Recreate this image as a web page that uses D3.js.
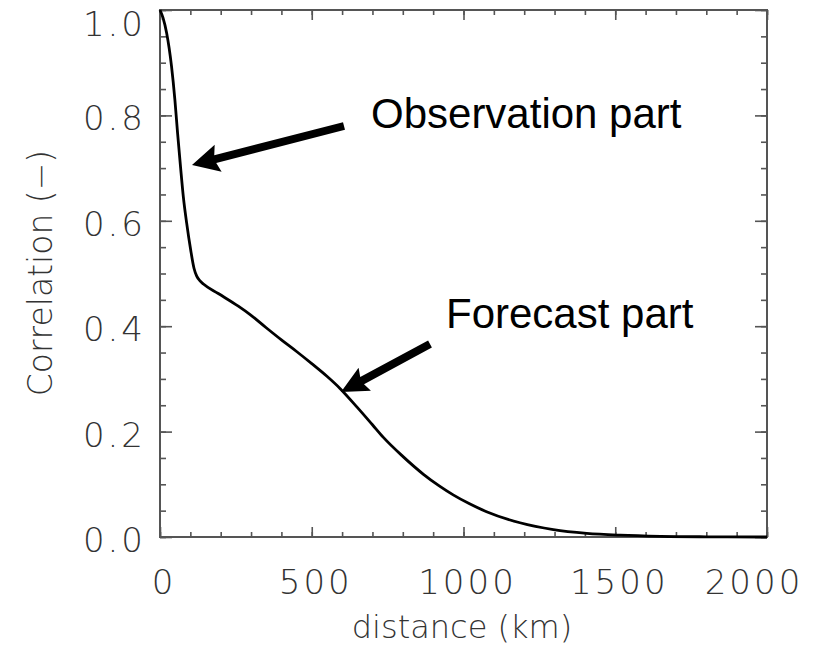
<!DOCTYPE html>
<html>
<head>
<meta charset="utf-8">
<script src="https://cdn.jsdelivr.net/npm/d3@7"></script>
<style>
  body { margin: 0; background: #fff; }
  .lbl { font-family: "DejaVu Sans", sans-serif; font-weight: 200; fill: #333; }
  .note { font-family: "Liberation Sans", Arial, sans-serif; fill: #000; }
</style>
</head>
<body>
<svg width="824" height="655"></svg>
<script>
var distance = [0, 10, 22, 38, 49, 58, 68, 77, 88, 101, 112, 121, 132, 143, 192, 258, 297, 350, 400, 450, 500, 550, 593, 650, 700, 736, 800, 868, 920, 966, 1020, 1076, 1186, 1296, 1406, 1516, 1650, 1800, 2000]
var correlation = [1.0, 0.985, 0.956, 0.893, 0.83, 0.766, 0.70, 0.645, 0.595, 0.545, 0.51, 0.495, 0.486, 0.480, 0.462, 0.438, 0.422, 0.397, 0.374, 0.352, 0.329, 0.305, 0.282, 0.246, 0.213, 0.189, 0.153, 0.119, 0.097, 0.080, 0.063, 0.048, 0.027, 0.014, 0.007, 0.0035, 0.0013, 0.0004, 0.0]

var xTicks = [0, 500, 1000, 1500, 2000]
var yTicks = [0.0, 0.2, 0.4, 0.6, 0.8, 1.0]
var xLabel = "distance (km)"
var yLabel = "Correlation (\u2212)"
var notes = ["Observation part", "Forecast part"]

var L = 160, R = 767, T = 10, B = 537

var svg = d3.select("svg")
var x = d3.scaleLinear().domain([0, 2000]).range([L, R])
var y = d3.scaleLinear().domain([0, 1]).range([B, T])

var axisColor = "#555"
function styleAxis(g) {
    g.select(".domain").remove()
    g.selectAll("line").attr("stroke", axisColor).attr("stroke-width", 1.6)
    g.selectAll("text").remove()
}

// minor + major ticks on all four sides, pointing inward
var minorX = d3.range(0, 2001, 100), minorY = d3.range(0, 1.0001, 0.05)
svg.append("g").attr("transform", "translate(0,"+B+")")
    .call(d3.axisBottom(x).tickValues(minorX).tickSize(-5)).call(styleAxis)
svg.append("g").attr("transform", "translate(0,"+B+")")
    .call(d3.axisBottom(x).tickValues(xTicks).tickSize(-10)).call(styleAxis)
svg.append("g").attr("transform", "translate(0,"+T+")")
    .call(d3.axisTop(x).tickValues(minorX).tickSize(-5)).call(styleAxis)
svg.append("g").attr("transform", "translate(0,"+T+")")
    .call(d3.axisTop(x).tickValues(xTicks).tickSize(-10)).call(styleAxis)
svg.append("g").attr("transform", "translate("+L+",0)")
    .call(d3.axisLeft(y).tickValues(minorY).tickSize(-6)).call(styleAxis)
svg.append("g").attr("transform", "translate("+L+",0)")
    .call(d3.axisLeft(y).tickValues(yTicks).tickSize(-12)).call(styleAxis)
svg.append("g").attr("transform", "translate("+R+",0)")
    .call(d3.axisRight(y).tickValues(minorY).tickSize(-6)).call(styleAxis)
svg.append("g").attr("transform", "translate("+R+",0)")
    .call(d3.axisRight(y).tickValues(yTicks).tickSize(-12)).call(styleAxis)

svg.append("rect")
    .attr("x", L).attr("y", T).attr("width", R-L).attr("height", B-T)
    .attr("fill", "none").attr("stroke", axisColor).attr("stroke-width", 2)

// tick labels (edge ones nudged inside the picture, as in the original)
svg.selectAll(".xt").data(xTicks).enter().append("text")
    .attr("class", "lbl")
    .attr("x", function(d) { return Math.min(x(d) + 4, 754) }).attr("y", 594)
    .attr("text-anchor", "middle").attr("font-size", 34).attr("letter-spacing", 3)
    .text(function(d) { return d })
svg.selectAll(".yt").data(yTicks).enter().append("text")
    .attr("class", "lbl")
    .attr("x", 146).attr("y", function(d) { return Math.max(y(d) + 3, 24) + 12 })
    .attr("text-anchor", "end").attr("font-size", 34).attr("letter-spacing", 3)
    .text(function(d) { return d.toFixed(1) })

svg.append("text").attr("class", "lbl")
    .attr("x", 462).attr("y", 638)
    .attr("text-anchor", "middle").attr("font-size", 32)
    .text(xLabel)
svg.append("text").attr("class", "lbl")
    .attr("transform", "translate(52,273) rotate(-90)")
    .attr("text-anchor", "middle").attr("font-size", 33)
    .text(yLabel)

// the curve
var line = d3.line()
    .x(function(d, i) { return x(distance[i]) })
    .y(function(d) { return y(d) })
    .curve(d3.curveMonotoneX)
svg.append("path").datum(correlation)
    .attr("d", line)
    .attr("fill", "none").attr("stroke", "#000").attr("stroke-width", 2.8)

// annotations with fat arrows
function arrow(x0, y0, x1, y1, w, head, hw) {
    var a = Math.atan2(y1-y0, x1-x0)
    var ux = Math.cos(a), uy = Math.sin(a), px = -uy, py = ux
    var bx = x1 - ux*head, by = y1 - uy*head
    var pts = [
        [x0 + px*w/2, y0 + py*w/2], [bx + px*w/2, by + py*w/2], [bx - ux*3 + px*hw, by - uy*3 + py*hw],
        [x1, y1],
        [bx - ux*3 - px*hw, by - uy*3 - py*hw], [bx - px*w/2, by - py*w/2], [x0 - px*w/2, y0 - py*w/2]
    ]
    svg.append("polygon").attr("points", pts.map(function(p) { return p.join(",") }).join(" ")).attr("fill", "#000")
}
arrow(344, 126, 192, 165, 8, 24, 14)
arrow(430, 344, 341, 392, 8, 24, 13)

svg.append("text").attr("class", "note")
    .attr("x", 371).attr("y", 128).attr("font-size", 42).text(notes[0])
svg.append("text").attr("class", "note")
    .attr("x", 446).attr("y", 328).attr("font-size", 42).text(notes[1])
</script>
</body>
</html>
